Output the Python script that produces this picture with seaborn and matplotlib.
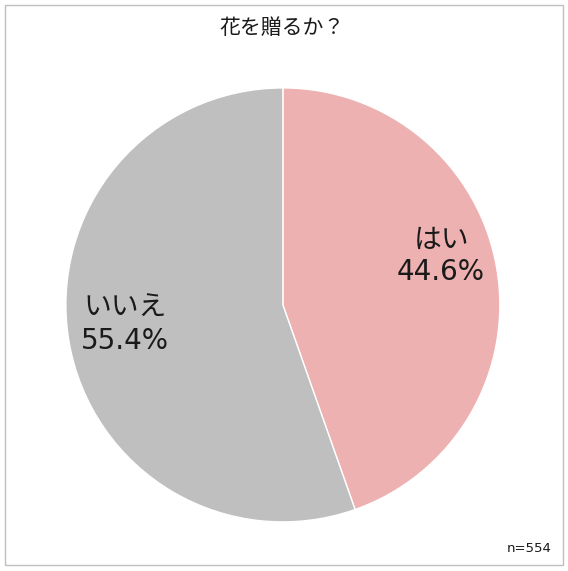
import numpy as np
import seaborn as sns
import matplotlib.pyplot as plt
import matplotlib.patches as mpatches

labels = ['はい', 'いいえ']
shares = [44.6, 55.4]
colors = ['#ECB1B0', '#BFBFBF']
title = '花を贈るか？'
n_note = 'n=554'

sns.set_theme(style='white')
plt.rcParams['font.family'] = ['DejaVu Sans', 'Noto Sans CJK JP']

fig = plt.figure(figsize=(5.68, 5.71), dpi=100)
ax = fig.add_axes([0.498 - 0.382, 0.466 - 0.38, 0.764, 0.76])

wedges, texts, autotexts = ax.pie(
    shares, colors=colors, startangle=90, counterclock=False,
    wedgeprops=dict(edgecolor='white', linewidth=1),
    autopct=lambda p: '', pctdistance=0.74)
ax.set_xlim(-1, 1)
ax.set_ylim(-1, 1)
ax.set_aspect('equal')

# label + percentage at each wedge's auto position, nudged like the original
nudges = [(0.0, 0.10), (0.0, 0.035)]
for lab, val, t, (dx, dy) in zip(labels, shares, autotexts, nudges):
    x, y = t.get_position()
    t.set_text(f'{lab}\n{val:.1f}%')
    t.set_position((x + dx, y + dy))
    t.set_fontsize(20)
    t.set_color('#1a1a1a')
    t.set_linespacing(1.2)

fig.text(0.496, 0.951, title, ha='center', va='center', fontsize=15, color='#1a1a1a')
fig.text(0.972, 0.04, n_note, ha='right', va='center', fontsize=9.5, color='#1a1a1a')

fig.patches.append(mpatches.Rectangle((0.009, 0.0105), 0.982, 0.98, transform=fig.transFigure,
                                      fill=False, edgecolor='#BFBFBF', linewidth=1))

fig.savefig('out.png', dpi=100, facecolor='white')
